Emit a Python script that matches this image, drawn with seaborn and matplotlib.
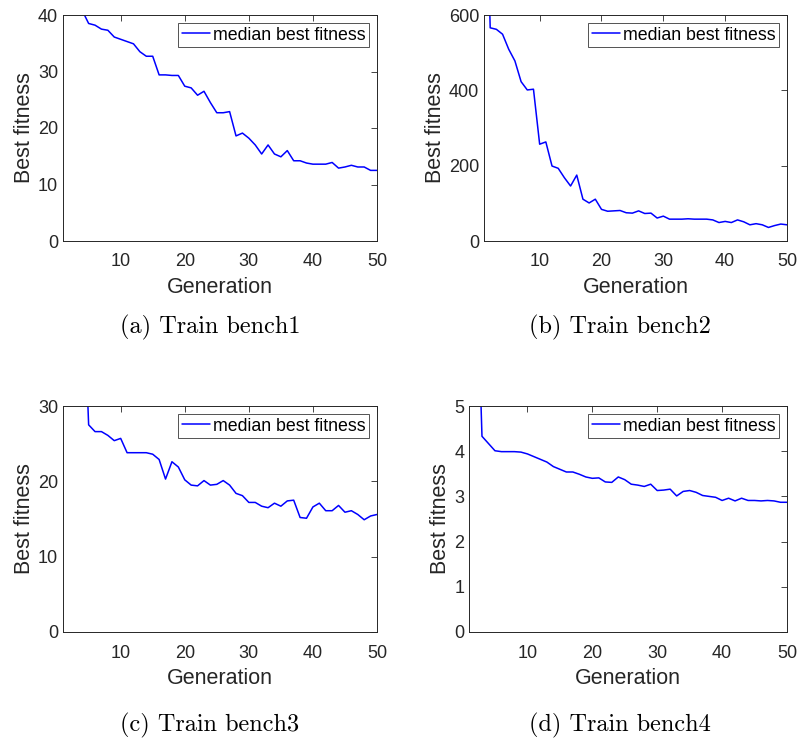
import numpy as np
import pandas as pd
import matplotlib
matplotlib.use("Agg")
import matplotlib.pyplot as plt
import seaborn as sns

generations = list(range(1, 51))

bench1 = [52.0, 47.0, 43.5, 40.8, 38.5, 38.2, 37.5, 37.3, 36.1, 35.7,
          35.3, 34.9, 33.5, 32.7, 32.7, 29.4, 29.4, 29.3, 29.3, 27.4,
          27.1, 25.8, 26.5, 24.5, 22.7, 22.7, 22.9, 18.6, 19.1, 18.2,
          17.0, 15.4, 17.0, 15.4, 14.9, 16.0, 14.2, 14.2, 13.8, 13.6,
          13.6, 13.6, 13.9, 12.9, 13.1, 13.4, 13.1, 13.1, 12.5, 12.5]

bench2 = [1200.0, 566.0, 562.0, 549.0, 509.0, 478.0, 423.0, 401.0, 403.0, 257.0,
          263.0, 199.0, 193.0, 168.0, 146.0, 175.0, 111.0, 101.0, 111.0, 84.0,
          79.0, 80.0, 81.0, 75.0, 74.0, 80.0, 73.0, 74.0, 61.0, 66.0,
          58.0, 58.0, 58.0, 59.0, 58.0, 58.0, 58.0, 56.0, 49.0, 52.0,
          49.0, 56.0, 51.0, 43.0, 46.0, 43.0, 36.0, 41.0, 45.0, 43.0]

bench3 = [80.0, 70.0, 60.0, 50.0, 27.5, 26.6, 26.6, 26.1, 25.4, 25.7,
          23.8, 23.8, 23.8, 23.8, 23.6, 22.9, 20.3, 22.6, 21.9, 20.2,
          19.5, 19.4, 20.1, 19.5, 19.6, 20.1, 19.5, 18.4, 18.1, 17.2,
          17.2, 16.7, 16.5, 17.1, 16.7, 17.4, 17.5, 15.2, 15.1, 16.6,
          17.1, 16.1, 16.1, 16.8, 15.9, 16.1, 15.6, 14.9, 15.4, 15.6]

bench4 = [12.0, 9.0, 4.33, 4.17, 4.01, 3.99, 3.99, 3.99, 3.98, 3.94,
          3.88, 3.82, 3.76, 3.66, 3.60, 3.54, 3.54, 3.49, 3.43, 3.40,
          3.41, 3.32, 3.31, 3.43, 3.37, 3.27, 3.25, 3.22, 3.27, 3.13,
          3.14, 3.16, 3.01, 3.11, 3.13, 3.09, 3.02, 3.00, 2.98, 2.91,
          2.96, 2.90, 2.96, 2.91, 2.91, 2.90, 2.91, 2.90, 2.87, 2.87]

captions = ["(a) Train bench1", "(b) Train bench2",
            "(c) Train bench3", "(d) Train bench4"]
y_limits = [40, 600, 30, 5]
y_ticks = [[0, 10, 20, 30, 40], [0, 200, 400, 600],
           [0, 10, 20, 30], [0, 1, 2, 3, 4, 5]]
x_ticks = [10, 20, 30, 40, 50]

series = [bench1, bench2, bench3, bench4]

sns.set_theme(style="white")
plt.rcParams["font.family"] = ["Liberation Sans", "DejaVu Sans"]
text_color = "#262626"

fig = plt.figure(figsize=(7.98, 7.40), dpi=100)
W, H = 798.0, 740.0
# axes rectangles in pixel units: left, right, top, bottom
rects = [(63, 377, 15, 241), (484, 787, 15, 241),
         (63, 377, 406, 632), (469, 787, 406, 632)]
caption_pos = [(210, 327), (620, 327), (210, 725), (620, 725)]

for i, (vals, cap) in enumerate(zip(series, captions)):
    l, r, t, b = rects[i]
    ax = fig.add_axes([l / W, 1 - b / H, (r - l) / W, (b - t) / H])
    df = pd.DataFrame({"Generation": generations, "Best fitness": vals})
    sns.lineplot(data=df, x="Generation", y="Best fitness", ax=ax,
                 color="#0000ff", linewidth=1.1, label="median best fitness")
    ax.set_xlim(1, 50)
    ax.set_ylim(0, y_limits[i])
    ax.set_xticks(x_ticks)
    ax.set_yticks(y_ticks[i])
    ax.tick_params(direction="in", length=4, width=0.6, top=True, right=True,
                   labelsize=13, colors=text_color)
    ax.tick_params(axis="x", pad=9)
    ax.tick_params(axis="y", pad=3.5)
    for s in ax.spines.values():
        s.set_color(text_color)
        s.set_linewidth(0.7)
    ax.set_xlabel("Generation", fontsize=15.5, color=text_color, labelpad=5)
    ax.set_ylabel("Best fitness", fontsize=15.5, color=text_color, labelpad=2)
    leg = ax.legend(loc="upper right", fontsize=12.8, frameon=True,
                    fancybox=False, handlelength=1.6, handletextpad=0.15,
                    borderpad=0.2, borderaxespad=0.45)
    leg.get_frame().set_edgecolor(text_color)
    leg.get_frame().set_linewidth(0.7)
    for txt in leg.get_texts():
        txt.set_color("black")
    cx, cy = caption_pos[i]
    fig.text(cx / W, 1 - cy / H, cap, ha="center", va="center",
             fontsize=17.5, family=["cmr10", "DejaVu Serif"], color="black")

fig.savefig("out.png", dpi=100, facecolor="white")
